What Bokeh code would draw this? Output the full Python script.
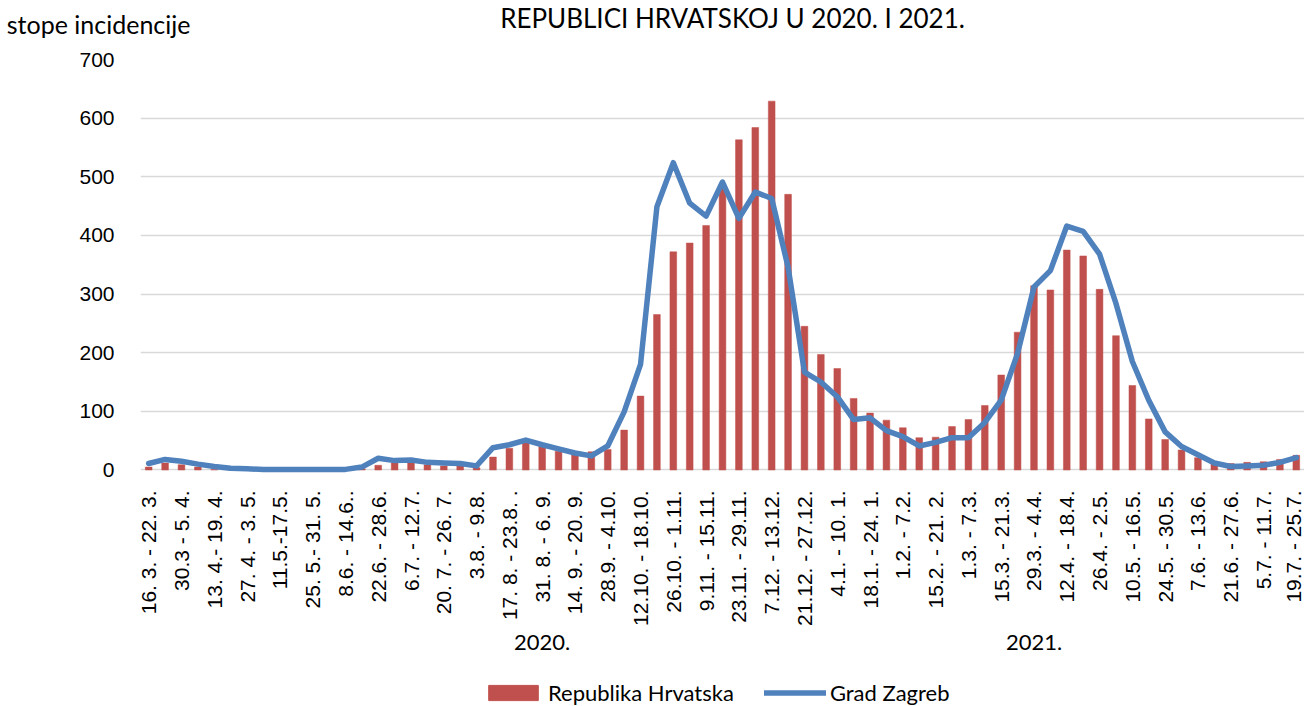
import math
from bokeh.plotting import figure
from bokeh.layouts import column
from bokeh.models import (Range1d, FixedTicker, Legend, LegendItem, Label,
                          LinearAxis, ColumnDataSource)
from bokeh.embed import file_html
from bokeh.resources import INLINE

# ---------------- data ----------------
weeks = list(range(71))  # weekly categories 16.3.2020 - 25.7.2021

tick_labels = [
    "16. 3. - 22. 3.", "30.3 - 5. 4.", "13. 4.- 19. 4.", "27. 4. - 3. 5.",
    "11.5.-17.5.", "25. 5.- 31. 5.", "8.6. - 14.6..", "22.6. - 28.6.",
    "6.7. - 12.7.", "20. 7. - 26. 7.", "3.8. - 9.8.", "17. 8. - 23.8. .",
    "31. 8. - 6. 9.", "14. 9. - 20. 9.", "28.9. - 4.10.", "12.10. - 18.10.",
    "26.10. - 1.11.", "9.11. - 15.11.", "23.11. - 29.11.", "7.12. - 13.12.",
    "21.12. - 27.12.", "4.1. - 10. 1.", "18.1. - 24. 1.", "1.2. - 7.2.",
    "15.2. - 21. 2.", "1.3. - 7.3.", "15.3. - 21.3.", "29.3. - 4.4.",
    "12.4. - 18.4.", "26.4. - 2.5.", "10.5. - 16.5.", "24.5. - 30.5.",
    "7.6. - 13.6.", "21.6. - 27.6.", "5.7. - 11.7.", "19.7. - 25.7.",
]
tick_positions = list(range(0, 71, 2))

republika_hrvatska = [
    5, 12, 9, 5, 1, 1, 0.5, 0.5, 0.5, 0.5,
    0.5, 0.5, 1, 2, 8, 12, 12, 9, 7, 7,
    4, 22, 37, 46, 40, 32, 26, 31, 35, 68,
    126, 265, 372, 387, 417, 480, 563, 584, 629, 470,
    245, 197, 173, 122, 97, 85, 72, 55, 56, 74,
    86, 110, 162, 235, 314, 307, 375, 365, 308, 229,
    144, 87, 52, 34, 21, 12, 11, 13, 14, 18,
    25,
]

grad_zagreb = [
    11, 18, 15, 10, 6, 3, 2, 1, 1, 1,
    1, 1, 1, 5, 20, 16, 17, 13, 12, 11,
    7, 38, 43, 51, 43, 36, 29, 24, 41, 99,
    180, 449, 524, 455, 433, 491, 429, 474, 463, 346,
    167, 150, 125, 86, 89, 67, 57, 41, 47, 55,
    55, 81, 119, 199, 312, 340, 416, 407, 368, 284,
    185, 119, 65, 40, 26, 12, 6, 7, 8, 13,
    21,
]

year_labels = ["2020.", "2021."]
year_positions = [24, 54]
series_names = ["Republika Hrvatska", "Grad Zagreb"]
title_text = "REPUBLICI HRVATSKOJ U 2020. I 2021."
y_title = "stope incidencije"

RED = "#C0504D"
BLUE = "#4F81BD"

W = 1304
TOP_H = 44
LEG_H = 36
MAIN_H = 706 - TOP_H - LEG_H
BL, BT, FH = 140, 15, 414
FW = W - BL

src = ColumnDataSource(dict(x=weeks, rh=republika_hrvatska, zg=grad_zagreb))


def strip(height):
    f = figure(width=W, height=height, output_backend="svg", toolbar_location=None,
               x_range=Range1d(0, FW), y_range=Range1d(0, height),
               x_axis_type=None, y_axis_type=None,
               min_border_left=BL, min_border_right=0, min_border_top=0,
               min_border_bottom=0)
    f.outline_line_color = None
    f.background_fill_color = "white"
    f.border_fill_color = "white"
    return f


# ---------------- top strip (titles) ----------------
top = strip(TOP_H)
top.add_layout(Label(x=732 - BL, y=TOP_H - 17, text=title_text, text_align="center",
                     text_baseline="alphabetic", text_font="Lato", text_font_size="26px",
                     text_color="#000000"))
ytitle_axis = LinearAxis(ticker=FixedTicker(ticks=[21]),
                         major_label_overrides={21: y_title})
ytitle_axis.axis_line_color = None
ytitle_axis.major_tick_line_color = None
ytitle_axis.minor_tick_line_color = None
ytitle_axis.major_label_standoff = -56
ytitle_axis.major_label_text_font = "Lato"
ytitle_axis.major_label_text_font_size = "25px"
ytitle_axis.major_label_text_color = "#000000"
top.add_layout(ytitle_axis, "left")

# ---------------- main chart ----------------
p = figure(width=W, height=MAIN_H, output_backend="svg", toolbar_location=None,
           x_range=Range1d(-0.5, 70.5), y_range=Range1d(-6, 700),
           min_border_left=BL, min_border_right=0, min_border_top=BT,
           min_border_bottom=MAIN_H - BT - FH)
p.outline_line_color = None
p.background_fill_color = "white"
p.border_fill_color = "white"

p.vbar(x="x", top="rh", width=0.41, bottom=0, source=src,
       fill_color=RED, line_color=RED, line_width=0.5)
p.line(x="x", y="zg", source=src, line_color=BLUE, line_width=5.5,
       line_join="round", line_cap="round")

p.xgrid.grid_line_color = None
p.ygrid.grid_line_color = "#D9D9D9"
p.ygrid.grid_line_width = 1.3
p.yaxis.ticker = FixedTicker(ticks=list(range(0, 701, 100)))
p.yaxis.axis_line_color = None
p.yaxis.major_tick_line_color = None
p.yaxis.minor_tick_line_color = None
p.yaxis.major_label_standoff = 20
p.yaxis.major_label_text_font = "Liberation Sans"
p.yaxis.major_label_text_font_size = "21px"
p.yaxis.major_label_text_color = "#000000"

p.xaxis.ticker = FixedTicker(ticks=tick_positions)
p.xaxis.major_label_overrides = {t: l for t, l in zip(tick_positions, tick_labels)}
p.xaxis.major_label_orientation = math.pi / 2
p.xaxis.axis_line_color = None
p.xaxis.major_tick_line_color = None
p.xaxis.minor_tick_line_color = None
p.xaxis.major_label_standoff = 11
p.xaxis.major_label_text_font = "Liberation Sans"
p.xaxis.major_label_text_font_size = "21px"
p.xaxis.major_label_text_color = "#000000"

year_axis = LinearAxis(ticker=FixedTicker(ticks=year_positions),
                       major_label_overrides={t: l for t, l in zip(year_positions, year_labels)})
year_axis.axis_line_color = None
year_axis.major_tick_line_color = None
year_axis.minor_tick_line_color = None
year_axis.major_label_standoff = 0
year_axis.major_label_text_font = "Lato"
year_axis.major_label_text_font_size = "22px"
year_axis.major_label_text_color = "#000000"
p.add_layout(year_axis, "below")

# ---------------- legend strip ----------------
leg = strip(LEG_H)
# the series glyphs here lie entirely outside this strip's view; only the legend shows
leg.x_range = Range1d(5000, 5000 + FW)
leg.y_range = Range1d(5000, 5000 + LEG_H)
r_bar = leg.vbar(x="x", top="rh", width=0.41, bottom=0, source=src,
                 fill_color=RED, line_color=RED)
r_line = leg.line(x="x", y="zg", source=src, line_color=BLUE, line_width=5.5,
                  line_cap="round")
legend = Legend(items=[LegendItem(label=series_names[0], renderers=[r_bar]),
                       LegendItem(label=series_names[1], renderers=[r_line])],
                orientation="horizontal", location=(342, 0),
                glyph_width=62, glyph_height=19, label_standoff=4, spacing=30,
                padding=0, margin=0, border_line_color=None,
                background_fill_alpha=0, label_text_font="Lato",
                label_text_font_size="22px", label_text_color="#000000")
leg.add_layout(legend, "center")

layout = column(top, p, leg, spacing=0)
open("out.html", "w").write(file_html(layout, INLINE))
